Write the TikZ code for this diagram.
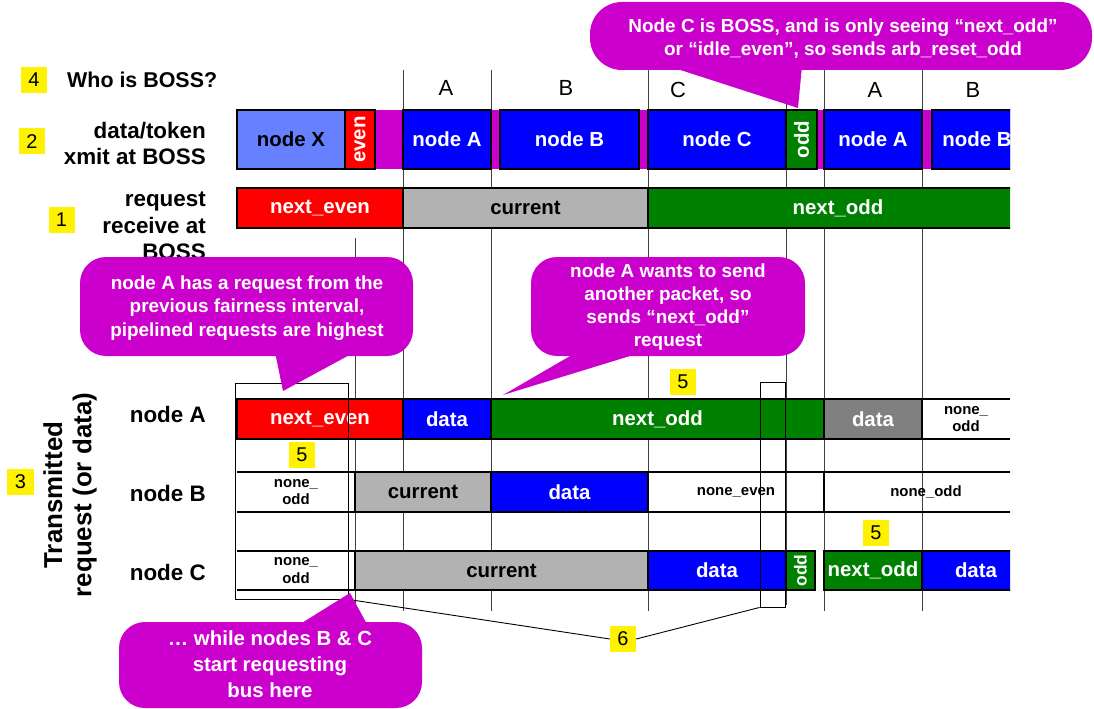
\documentclass[tikz,border=0pt]{standalone}
\usepackage{fontspec}
\setmainfont{Liberation Sans}
\definecolor{callmag}{HTML}{CC00CC}
\definecolor{curgray}{HTML}{B2B2B2}
\definecolor{dkgray}{HTML}{808080}
\definecolor{ltblue}{HTML}{6680FF}
\definecolor{pblue}{HTML}{0000FF}
\definecolor{pred}{HTML}{FF0000}
\definecolor{pgreen}{HTML}{008000}
\newcommand\segfnt{\fontsize{20.5}{24}\selectfont\bfseries}
\newcommand\smlfnt{\fontsize{15}{17.5}\selectfont\bfseries}
\newcommand\labfnt{\fontsize{22.5}{26.5}\selectfont\bfseries}
\newcommand\callfnt{\fontsize{19}{23.3}\selectfont\bfseries}
\newcommand\tagfnt{\fontsize{20}{24}\selectfont}
\newcommand\topfnt{\fontsize{22}{26}\selectfont}
% box from x1 to x2, y1 to y2 (pixel grid, y downwards)
\newcommand\segbox[7][]{%
  \pgfmathsetmacro\sbx{(#3+#4)/2}\pgfmathsetmacro\sby{(#5+#6)/2}%
  \pgfmathsetmacro\sbw{#4-#3}\pgfmathsetmacro\sbh{#6-#5}%
  \node[seg,#1,minimum width=\sbw bp,minimum height=\sbh bp] (#2) at (\sbx,\sby) {#7};}
\begin{document}
\begin{tikzpicture}[x=1bp,y=-1bp,
  seg/.style={draw=black,line width=2bp,inner sep=0pt,text=white,font=\segfnt},
  wseg/.style={inner sep=0pt,text=black,font=\smlfnt,align=center},
  gridline/.style={draw=black!75,line width=1bp},
  rowline/.style={draw=black,line width=2.2bp},
  thinbox/.style={draw=black,line width=0.9bp,inner sep=0pt},
  tag/.style={fill=yellow,inner sep=0pt,minimum width=26bp,minimum height=26bp,font=\tagfnt},
  lab/.style={anchor=east,align=right,font=\labfnt,inner sep=0pt},
  calltext/.style={text=white,align=center,font=\callfnt,inner sep=0pt},
  vlab/.style={rotate=90,text=white,font=\segfnt,inner sep=0pt}]
\useasboundingbox (0,0) rectangle (1094,709);

% time grid
\foreach \gx in {403,491,648,824,922} \draw[gridline] (\gx,70) -- (\gx,611);
\draw[gridline] (786,70) -- (786,605);
\draw[gridline] (355,238) -- (355,611);

% column owners
\node[font=\topfnt] (hA1) at (446,88) {A};
\node[font=\topfnt] (hB1) at (566,88) {B};
\node[font=\topfnt] (hC1) at (678,90) {C};
\node[font=\topfnt] (hA2) at (875,90) {A};
\node[font=\topfnt] (hB2) at (973,90) {B};

% row labels
\node[anchor=west,font=\fontsize{21.5}{26}\selectfont\bfseries,inner sep=0pt] (who) at (67,80) {Who is BOSS?};
\node[lab] (lxmit) at (206,143.5) {data/token\\xmit at BOSS};
\node[lab] (lreq) at (206,226) {request\\receive at\\BOSS};
\node[lab] (lnA) at (206,414) {node A};
\node[lab] (lnB) at (206,493) {node B};
\node[lab] (lnC) at (206,572) {node C};
\node[rotate=90,align=center,font=\fontsize{26}{29.5}\selectfont\bfseries,inner sep=0pt] (ltx) at (70,495) {Transmitted\\request (or data)};

\begin{scope}
\clip (0,0) rectangle (1010,709);
% data/token row
\fill[callmag] (237,110) rectangle (1040,169);
\segbox[fill=ltblue,text=black]{tX}{237}{345}{110}{169}{node X}
\segbox[fill=pred]{tEven}{345}{375}{110}{169}{}
\node[vlab] (tEvenL) at (tEven.center) {even};
\segbox[fill=pblue]{tA}{403}{491}{110}{169}{node A}
\segbox[fill=pblue]{tB}{500}{639}{110}{169}{node B}
\segbox[fill=pblue]{tC}{648}{786}{110}{169}{node C}
\segbox[fill=pgreen]{tOdd}{786}{817}{110}{169}{}
\node[vlab] (tOddL) at (tOdd.center) {odd};
\segbox[fill=pblue]{tA2}{824}{922}{110}{169}{node A}
\segbox[fill=pblue]{tB2}{932}{1022}{110}{169}{node B}

% request row
\segbox[fill=pred]{rNE}{237}{403}{188}{228}{next\_even}
\segbox[fill=curgray,text=black]{rCur}{403}{648}{188}{228}{current}
\segbox[fill=pgreen]{rNO}{648}{1028}{188}{228}{next\_odd}

% node A
\segbox[fill=pred]{aNE}{237}{403}{399}{439}{next\_even}
\segbox[fill=pblue]{aD}{403}{491}{399}{439}{data}
\segbox[fill=pgreen]{aNO}{491}{824}{399}{439}{next\_odd}
\segbox[fill=dkgray]{aD2}{824}{922}{399}{439}{data}
\node[wseg] (aNone) at (966,419) {none\_\\odd};
\draw[rowline] (922,399) -- (1010,399) (922,439) -- (1010,439);

% node B
\node[wseg] (bNone) at (296,492) {none\_\\odd};
\segbox[fill=curgray,text=black]{bCur}{355}{491}{472}{512}{current}
\segbox[fill=pblue]{bD}{491}{648}{472}{512}{data}
\node[wseg] (bNoneE) at (736,492) {none\_even};
\node[wseg] (bNone2) at (926,492) {none\_odd};
\draw[rowline] (237,472) -- (355,472) (237,512) -- (355,512)
  (648,472) -- (1010,472) (648,512) -- (1010,512) (824,472) -- (824,512);

% node C
\node[wseg] (cNone) at (296,570.5) {none\_\\odd};
\segbox[fill=curgray,text=black]{cCur}{355}{648}{551}{590}{current}
\segbox[fill=pblue]{cD}{648}{786}{551}{590}{data}
\segbox[fill=pgreen]{cOdd}{786}{815}{551}{590}{}
\node[vlab,font=\fontsize{17.5}{20}\selectfont\bfseries] (cOddL) at (cOdd.center) {odd};
\segbox[fill=pgreen]{cNO}{824}{922}{551}{590}{next\_odd}
\segbox[fill=pblue]{cD2}{922}{1030}{551}{590}{data}
\draw[rowline] (237,551) -- (355,551) (237,590) -- (355,590);
\end{scope}

% marked windows and their number
\node[thinbox,minimum width=113bp,minimum height=216bp] (winL) at (291.5,491) {};
\node[thinbox,minimum width=25bp,minimum height=225bp] (winR) at (772.5,494.5) {};
\node[tag] (t6) at (623,639) {6};
\draw[line width=0.9bp] (winL.south east) -- (t6.west);
\draw[line width=0.9bp] (t6.east) -- (winR.south west);

% callouts
\fill[callmag,rounded corners=32bp] (590,2) rectangle (1092,70);
\fill[callmag] (668,66) -- (802,66) -- (798,108) -- cycle;
\node[calltext] (c1) at (843,38.5) {Node C is BOSS, and is only seeing “next\_odd”\\or “idle\_even”, so sends arb\_reset\_odd};

\fill[callmag,rounded corners=26bp] (80,257) rectangle (413,356);
\fill[callmag] (275,352) -- (355,352) -- (283,391) -- cycle;
\node[calltext] (c2) at (247,308) {node A has a request from the\\previous fairness interval,\\pipelined requests are highest};

\fill[callmag,rounded corners=26bp] (531,257) rectangle (805,356);
\fill[callmag] (577,352) -- (643,352) -- (503,395) -- cycle;
\node[calltext] (c3) at (668,307) {node A wants to send\\another packet, so\\sends “next\_odd”\\request};

\fill[callmag,rounded corners=26bp] (119,622) rectangle (422,708);
\fill[callmag] (297,626) -- (368,626) -- (350,593) -- cycle;
\node[calltext,font=\fontsize{20.5}{26}\selectfont\bfseries] (c4) at (270,664) {… while nodes B \& C\\start requesting\\bus here};

% step numbers
\node[tag] (t4) at (34,80) {4};
\node[tag] (t2) at (32,141.5) {2};
\node[tag] (t1) at (61.5,220) {1};
\node[tag] (t3) at (20.5,481.5) {3};
\node[tag] (t5a) at (683,382) {5};
\node[tag] (t5b) at (302,455) {5};
\node[tag] (t5c) at (876,533) {5};
\end{tikzpicture}
\end{document}
